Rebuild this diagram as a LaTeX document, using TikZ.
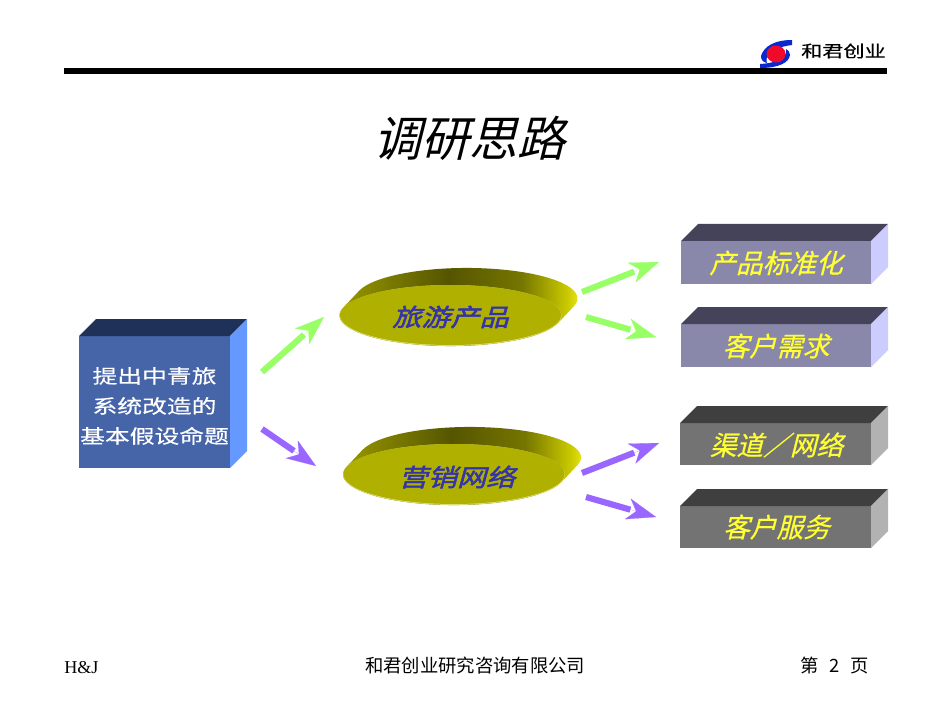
\documentclass[tikz,border=0pt]{standalone}
\usepackage{fontspec}
\setmainfont{Liberation Serif}
\usetikzlibrary{arrows.meta,calc}
\newfontfamily\cjkplain{Noto Sans CJK SC}
\newfontfamily\cjkital[FakeSlant=0.25]{Noto Sans CJK SC}
\newfontfamily\cjkwide[FakeStretch=1.3,FakeBold=0.4]{Noto Sans CJK SC}
\newfontfamily\cjkboldital[FakeSlant=0.28,FakeStretch=1.2,FakeBold=1.8]{Noto Sans CJK SC}
\newfontfamily\cjklabel[FakeSlant=0.25,FakeBold=0.6]{Noto Sans CJK SC}
\definecolor{arrowgreen}{HTML}{99FF66}
\definecolor{arrowpurple}{HTML}{9966FF}
\definecolor{sa}{HTML}{A0A000}
\definecolor{sb}{HTML}{555500}
\definecolor{sc}{HTML}{757500}
\definecolor{sd}{HTML}{CCCC00}
\definecolor{se}{HTML}{FFFF33}
\definecolor{discface}{HTML}{B0B000}
\definecolor{discedge}{HTML}{DDDD77}
\definecolor{disctxt}{HTML}{3333AA}
\definecolor{cubefront}{HTML}{4664A8}
\definecolor{cubetop}{HTML}{1F3158}
\definecolor{cubeside}{HTML}{6699FF}
\definecolor{logored}{HTML}{EE0A28}
\definecolor{logoblue}{HTML}{0A28D0}
\definecolor{labelyellow}{HTML}{FFFF33}
\pgfdeclarehorizontalshading{ellside}{100bp}{
 color(0bp)=(sa);
 color(25bp)=(sa);
 color(48bp)=(sb);
 color(62bp)=(sc);
 color(71bp)=(sd);
 color(75bp)=(se);
 color(100bp)=(se)}
\tikzset{
 x=0.75pt,y=-0.75pt,
 flowshaft/.style={line width=4.6pt,shorten >=20pt},
 flowhead/.style={line width=0.1pt,-{Stealth[length=22pt,width=16pt,inset=6.5pt]}},
 labeltext/.style={inner sep=0pt,font=\cjklabel\fontsize{20}{24}\selectfont,text=labelyellow},
 disctext/.style={inner sep=0pt,font=\cjkboldital\fontsize{18.2}{22}\selectfont,text=disctxt},
 foot/.style={inner sep=0pt,font=\fontsize{13.6}{16}\selectfont},
 cjkfoot/.style={inner sep=0pt,font=\cjkplain\fontsize{13.75}{16}\selectfont},
}
\newcommand{\flowarrow}[3]{%
 \draw[flowshaft,color=#1] (#2) -- (#3);
 \draw[flowhead,color=#1] ($(#3)!28pt!(#2)$) -- (#3);
}
\begin{document}
\begin{tikzpicture}
\useasboundingbox (0,0) rectangle (950,713);
\fill[white] (0,0) rectangle (950,713);
% header
\fill[black] (64,68) rectangle (887,74);
\fill[logoblue] (792,40) .. controls (775,40) and (764,46) .. (761,56) .. controls (761,60) and (763,62) .. (767,63)
  .. controls (765,58) and (768,48) .. (792,45) -- cycle;
\fill[logoblue] (760,64) -- (760,68) .. controls (778,68) and (789,63) .. (790,55) .. controls (790,52) and (788,50) .. (786,49)
  .. controls (788,57) and (778,63) .. (760,64) -- cycle;
\fill[logored] (776,54) ellipse [x radius=9.5,y radius=8.5];
\node[inner sep=0pt,font=\cjkwide\fontsize{12.2}{14}\selectfont] (brand) at (843.5,51) {和君创业};
% title
\node[inner sep=0pt,font=\cjkital\fontsize{36}{40}\selectfont] (title) at (469.5,138) {调研思路};
% main block
\fill[cubefront] (79,336) rectangle (230,468);
\fill[cubetop] (79,336) -- (96,319) -- (247,319) -- (230,336) -- cycle;
\fill[cubeside] (230,336) -- (247,319) -- (247,451) -- (230,468) -- cycle;
\node[inner sep=0pt,align=center,text=white,font=\cjkwide\fontsize{14.3}{22.5}\selectfont] (prop) at (154.5,406) {提出中青旅\\系统改造的\\基本假设命题};
% discs
\foreach \fx/\fy in {450.5/315.5,454/474.5}{
 \shade[shading=ellside] ($(\fx,\fy)+(16+107.5,-17+7.6)$)
   arc[start angle=14.5,end angle=-165.5,x radius=111,y radius=30.5]
   -- ($(\fx,\fy)+(-107.5,-7.6)$)
   arc[start angle=194.5,end angle=14.5,x radius=111,y radius=30.5] -- cycle;
 \fill[discedge] (\fx,\fy) ellipse [x radius=111,y radius=30.5];
 \fill[discface] (\fx,\fy-0.5) ellipse [x radius=110.6,y radius=30];
}
\node[disctext] (disc1) at (450.5,317) {旅游产品};
\node[disctext] (disc2) at (457,477) {营销网络};
% right blocks
\foreach \xa/\yt/\yb/\cf/\ct/\cs in {
  681/241/284/8A88AA/45435A/CCCCFF,
  681/324/367/8A88AA/45435A/CCCCFF,
  680/423/465/737373/3F3F3F/B2B2B2,
  680/506/548/737373/3F3F3F/B2B2B2}{
 \definecolor{cf}{HTML}{\cf}\definecolor{ct}{HTML}{\ct}\definecolor{cs}{HTML}{\cs}
 \fill[cf] (\xa,\yt) rectangle (871,\yb);
 \fill[ct] (\xa,\yt) -- (\xa+17,\yt-17) -- (888,\yt-17) -- (871,\yt) -- cycle;
 \fill[cs] (871,\yt) -- (888,\yt-17) -- (888,\yb-17) -- (871,\yb) -- cycle;
}
\node[labeltext] (r1) at (776,263) {产品标准化};
\node[labeltext] (r2) at (776,346) {客户需求};
\node[labeltext] (r3) at (776.5,445) {渠道／网络};
\node[labeltext] (r4) at (776.5,527) {客户服务};
% connectors
\coordinate (g1s) at (262,372); \coordinate (g1e) at (324,317);
\coordinate (p1s) at (262,429); \coordinate (p1e) at (316,466);
\coordinate (g2s) at (582,292); \coordinate (g2e) at (659,262);
\coordinate (g3s) at (586,317); \coordinate (g3e) at (656,337);
\coordinate (p2s) at (582,473); \coordinate (p2e) at (659,443);
\coordinate (p3s) at (586,497); \coordinate (p3e) at (656,517);
\flowarrow{arrowgreen}{g1s}{g1e}
\flowarrow{arrowpurple}{p1s}{p1e}
\flowarrow{arrowgreen}{g2s}{g2e}
\flowarrow{arrowgreen}{g3s}{g3e}
\flowarrow{arrowpurple}{p2s}{p2e}
\flowarrow{arrowpurple}{p3s}{p3e}
% footer
\node[foot,anchor=west] (fa) at (64,668) {H\&J};
\node[cjkfoot] (fb) at (475,666) {和君创业研究咨询有限公司};
\node[cjkfoot] (fc) at (834.5,666) {第\hspace{0.6em}2\hspace{0.6em}页};
\end{tikzpicture}
\end{document}
